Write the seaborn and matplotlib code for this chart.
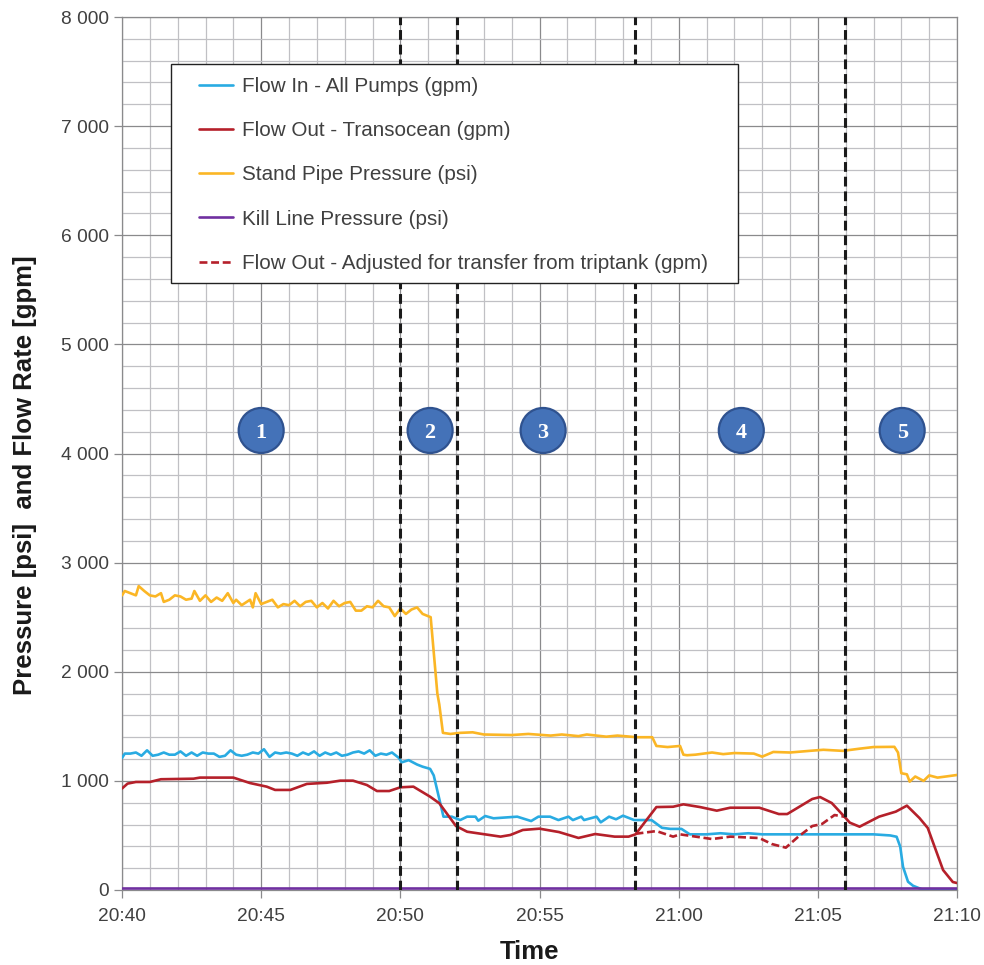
import numpy as np
import pandas as pd
import matplotlib
matplotlib.use("Agg")
import matplotlib.pyplot as plt
import seaborn as sns
from matplotlib.ticker import FixedLocator, MultipleLocator
from matplotlib.patches import Ellipse, Rectangle

# all times in minutes after 20:40
x_major = [0, 5, 10, 15, 20, 25, 30]
x_labels = ["20:40", "20:45", "20:50", "20:55", "21:00", "21:05", "21:10"]
y_major = [0, 1000, 2000, 3000, 4000, 5000, 6000, 7000, 8000]
y_labels = ["0", "1 000", "2 000", "3 000", "4 000", "5 000", "6 000", "7 000", "8 000"]

event_times = [10.0, 12.04, 18.43, 25.98]
phase_times = [5.0, 11.07, 15.13, 22.25, 28.03]
phase_labels = ["1", "2", "3", "4", "5"]
phase_level = 4211

spp_t = [0, 0.1, 0.3, 0.5, 0.6, 0.8, 1.0, 1.2, 1.4, 1.5, 1.7, 1.9, 2.1, 2.3, 2.5, 2.6, 2.8, 3.0, 3.2,
         3.4, 3.6, 3.8, 4.0, 4.1, 4.3, 4.6, 4.7, 4.8, 5.0, 5.2, 5.4, 5.6, 5.8, 6.0, 6.2, 6.4, 6.6, 6.8,
         7.0, 7.2, 7.4, 7.6, 7.8, 8.0, 8.2, 8.4, 8.6, 8.8, 9.0, 9.2, 9.4, 9.6, 9.8, 10.0, 10.2, 10.4,
         10.6, 10.8, 11.09, 11.33, 11.4, 11.53, 11.8, 12.15, 12.6, 13.0, 14.0, 14.6, 15.4, 15.8, 16.4,
         16.7, 17.4, 17.8, 18.5, 19.05, 19.2, 19.6, 20.05, 20.17, 20.3, 20.6, 21.2, 21.6, 22, 22.7, 23.0,
         23.4, 24.0, 24.7, 25.2, 25.9, 26.5, 27, 27.75, 27.88, 28.0, 28.2, 28.3, 28.5, 28.8, 29, 29.3,
         29.6, 30]
spp_v = [2700, 2740, 2720, 2700, 2785, 2740, 2700, 2690, 2720, 2640, 2660, 2700, 2690, 2660, 2670, 2740,
         2650, 2700, 2640, 2680, 2650, 2720, 2630, 2660, 2610, 2660, 2590, 2720, 2620, 2640, 2660, 2590,
         2620, 2610, 2650, 2600, 2640, 2650, 2590, 2630, 2580, 2650, 2600, 2630, 2640, 2560, 2560, 2600,
         2590, 2650, 2600, 2590, 2510, 2580, 2530, 2570, 2590, 2530, 2500, 1800, 1700, 1440, 1430, 1440,
         1445, 1425, 1420, 1430, 1415, 1425, 1410, 1425, 1405, 1415, 1400, 1400, 1320, 1310, 1320, 1240,
         1235, 1240, 1260, 1245, 1255, 1250, 1222, 1265, 1260, 1275, 1285, 1275, 1295, 1310, 1312, 1260,
         1070, 1060, 993, 1040, 1000, 1050, 1030, 1040, 1054]

flow_in_t = [0, 0.1, 0.3, 0.5, 0.7, 0.9, 1.1, 1.3, 1.5, 1.7, 1.9, 2.1, 2.3, 2.5, 2.7, 2.9, 3.1, 3.3, 3.5,
             3.7, 3.9, 4.1, 4.3, 4.5, 4.7, 4.9, 5.1, 5.3, 5.5, 5.7, 5.9, 6.1, 6.3, 6.5, 6.7, 6.9, 7.1,
             7.3, 7.5, 7.7, 7.9, 8.1, 8.3, 8.5, 8.7, 8.9, 9.1, 9.3, 9.5, 9.7, 9.95, 10.05, 10.3, 10.6,
             10.8, 11.07, 11.2, 11.55, 11.85, 12.15, 12.4, 12.7, 12.8, 13.05, 13.35, 14.2, 14.7, 14.96,
             15.38, 15.68, 16.04, 16.2, 16.5, 16.6, 17.05, 17.2, 17.5, 17.75, 18.0, 18.4, 18.85, 19.03,
             19.4, 19.7, 20.1, 20.4, 21, 21.5, 22, 22.5, 23, 23.5, 24, 25, 26, 27, 27.6, 27.83, 27.96,
             28.06, 28.24, 28.42, 28.78, 30]
flow_in_v = [1210, 1250, 1250, 1260, 1230, 1280, 1230, 1240, 1260, 1240, 1240, 1270, 1230, 1260, 1230,
             1260, 1250, 1250, 1220, 1230, 1280, 1240, 1230, 1240, 1260, 1250, 1290, 1220, 1260, 1250,
             1260, 1250, 1230, 1260, 1240, 1270, 1230, 1260, 1240, 1260, 1230, 1240, 1260, 1270, 1250,
             1280, 1230, 1250, 1240, 1260, 1210, 1170, 1190, 1150, 1130, 1110, 1050, 672, 672, 641, 672,
             672, 635, 678, 657, 672, 632, 672, 672, 641, 672, 641, 672, 641, 672, 620, 672, 648, 681,
             641, 641, 640, 570, 560, 560, 510, 510, 520, 510, 520, 510, 510, 510, 510, 510, 510, 500,
             488, 397, 213, 76, 39, 2, 2]

flow_out_t = [0, 0.2, 0.5, 1.0, 1.4, 2.57, 2.8, 4.0, 4.6, 5.2, 5.5, 6.05, 6.64, 7.36, 7.84, 8.3, 8.8,
              9.16, 9.6, 10, 10.47, 11.07, 11.4, 12.0, 12.4, 13.6, 13.95, 14.4, 15, 15.7, 16.4, 17, 17.7,
              18.2, 18.45, 19.2, 19.8, 20.17, 20.77, 21.37, 21.85, 22.9, 23.6, 23.9, 24.8, 25.08, 25.5,
              25.9, 26.15, 26.5, 27.2, 27.8, 28.2, 28.65, 28.95, 29.5, 29.85, 30]
flow_out_v = [930, 975, 990, 990, 1015, 1020, 1030, 1030, 980, 947, 917, 917, 972, 983, 1002, 1002, 962,
              907, 907, 941, 947, 855, 795, 586, 534, 489, 504, 550, 562, 531, 477, 513, 489, 489, 510,
              760, 763, 785, 760, 727, 754, 754, 696, 696, 834, 852, 797, 687, 617, 580, 672, 718, 773,
              660, 568, 183, 73, 64]

adjusted_t = [18.45, 19.2, 19.8, 20.05, 21.2, 21.85, 22.9, 23.35, 23.85, 24.3, 24.8, 25.15, 25.6, 25.95]
adjusted_v = [515, 540, 489, 510, 467, 489, 476, 421, 388, 489, 586, 605, 687, 672]

kill_t = [0, 30]
kill_v = [15, 15]

names = ["Flow In - All Pumps (gpm)", "Flow Out - Transocean (gpm)", "Stand Pipe Pressure (psi)",
         "Kill Line Pressure (psi)", "Flow Out - Adjusted for transfer from triptank (gpm)"]
colors = ["#29abe2", "#b5202a", "#fbb625", "#7030a0", "#b5202a"]
all_t = [flow_in_t, flow_out_t, spp_t, kill_t, adjusted_t]
all_v = [flow_in_v, flow_out_v, spp_v, kill_v, adjusted_v]

df = pd.concat([pd.DataFrame({"t": t, "v": v, "series": n}) for t, v, n in zip(all_t, all_v, names)],
               ignore_index=True)

sns.set_theme(style="white")
plt.rcParams["font.family"] = ["Liberation Sans", "DejaVu Sans"]
text_col = "#404040"
grid_major = "#8a8a8c"
grid_minor = "#c0c0c4"

fig = plt.figure(figsize=(9.84, 9.65), dpi=100)
ax = fig.add_axes([122 / 984, 1 - 890 / 965, (957 - 122) / 984, (890 - 17) / 965])

sns.lineplot(data=df, x="t", y="v", hue="series", hue_order=names, palette=dict(zip(names, colors)),
             style="series", style_order=names,
             dashes={n: ((3, 1.4) if n == names[4] else "") for n in names},
             estimator=None, sort=False, linewidth=1.9, ax=ax, zorder=3)

ax.set_xlim(0, 30)
ax.set_ylim(0, 8000)
ax.xaxis.set_major_locator(FixedLocator(x_major))
ax.set_xticklabels(x_labels)
ax.yaxis.set_major_locator(FixedLocator(y_major))
ax.set_yticklabels(y_labels)
ax.xaxis.set_minor_locator(MultipleLocator(1))
ax.yaxis.set_minor_locator(MultipleLocator(200))
ax.grid(which="minor", color=grid_minor, lw=0.9)
ax.grid(which="major", color=grid_major, lw=0.9)
ax.set_axisbelow(True)
ax.tick_params(which="major", bottom=True, left=True, length=6, width=0.9, color=grid_major,
               labelsize=13.8, labelcolor=text_col)
ax.tick_params(axis="x", which="major", pad=7)
ax.tick_params(which="minor", bottom=False, left=False)
for s in ax.spines.values():
    s.set_color(grid_major)
    s.set_linewidth(0.9)

ax.set_xlabel("Time", fontsize=18.5, fontweight="bold", color="#1a1a1a", va="center")
ax.set_ylabel("Pressure [psi]  and Flow Rate [gpm]", fontsize=18.5, fontweight="bold", color="#1a1a1a", va="center")
ax.xaxis.set_label_coords(407 / 835, -62 / 873)
ax.yaxis.set_label_coords(-97 / 835, 415 / 873)

for e in event_times:
    ax.axvline(e, color="#1a1a1a", lw=2.2, ls=(0, (3.2, 1.6)), zorder=4)

# legend box is drawn apart, its padding is not even on all sides in the original
ax.add_patch(Rectangle((49 / 835, (890 - 283) / 873), 567 / 835, 219 / 873, transform=ax.transAxes,
                       facecolor="white", edgecolor="#222222", lw=1, zorder=5))
handles, labels = ax.get_legend_handles_labels()
leg = ax.legend(handles, labels, loc="upper left", bbox_to_anchor=(77 / 835, (890 - 77) / 873),
                bbox_transform=ax.transAxes, fontsize=14.9, labelcolor=text_col, frameon=False,
                borderaxespad=0, borderpad=0, handlelength=1.64, handletextpad=0.43, labelspacing=1.22)
leg.set_zorder(6)

# circle width in data units, so it comes out round on screen
w = 45 / 835 * 30
h = 45 / 873 * 8000
for t, lab in zip(phase_times, phase_labels):
    ax.add_patch(Ellipse((t, phase_level), w, h, facecolor="#4472b8", edgecolor="#2f528f", lw=1.6, zorder=5))
    ax.text(t, phase_level, lab, ha="center", va="center_baseline", color="white", fontsize=16,
            fontweight="bold", family="Liberation Serif", zorder=6)

fig.savefig("out.png", dpi=100)
